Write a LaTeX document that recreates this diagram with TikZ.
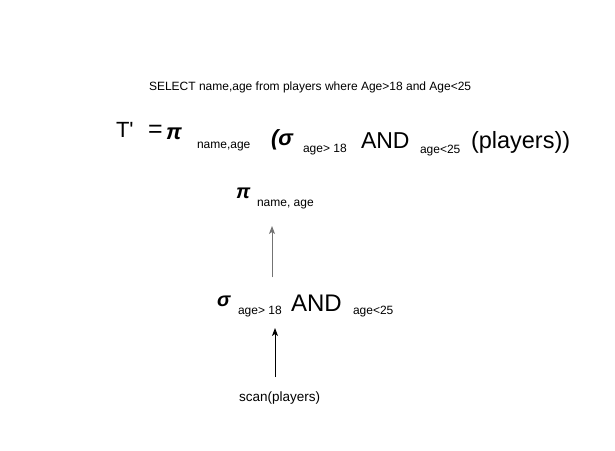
\documentclass[tikz,border=0pt]{standalone}
\usepackage{fontspec}
\setmainfont{Liberation Sans}
\usetikzlibrary{arrows.meta}
\begin{document}
\begin{tikzpicture}[x=1pt,y=-1pt,
  txt/.style={inner sep=0pt,outer sep=0pt,anchor=base west},
  sql/.style={txt,font=\fontsize{12}{14}\selectfont},
  big/.style={txt,font=\fontsize{22}{26}\selectfont},
  bigger/.style={txt,font=\fontsize{23.5}{27}\selectfont},
  subs/.style={txt,font=\fontsize{12}{14}\selectfont},
  greek/.style={txt,font=\fontsize{22}{26}\selectfont\bfseries\itshape},
  greeks/.style={txt,font=\fontsize{20}{24}\selectfont\bfseries\itshape},
  conn/.style={line width=0.9pt,-{Stealth[length=8pt,width=6pt,inset=2pt]}}]
\useasboundingbox (0,0) rectangle (615,450);
% SQL line
\node[sql] (sqlq) at (149,90) {SELECT name,age from players where Age>18 and Age<25};
% algebra expression
\node[big] (tp) at (116,137) {\addfontfeatures{Ligatures=TeXOff}T'};
\node[big,font=\fontsize{25}{28}\selectfont] (eq) at (148,137) {=};
\node[greek] (pi1) at (166,139) {π};
\node[subs] (pisub1) at (197,148) {name,age};
\node[greek] (sig1) at (271,145) {(σ};
\node[subs] (c1a) at (303,152) {age> 18};
\node[bigger,font=\fontsize{23}{27}\selectfont] (and1) at (361,148) {AND};
\node[subs] (c1b) at (420,153) {age<25};
\node[bigger] (pl1) at (471,148) {(players))};
% tree
\node[greeks] (pi2) at (236,198) {π};
\node[subs] (pisub2) at (257,206) {name, age};
\node[greeks] (sig2) at (217,306) {σ};
\node[subs] (c2a) at (238,314) {age> 18};
\node[bigger,font=\fontsize{24}{28}\selectfont] (and2) at (291,311) {AND};
\node[subs] (c2b) at (353,314) {age<25};
\node[txt,font=\fontsize{13.5}{16}\selectfont] (scan) at (239,401) {scan(players)};
\coordinate (a1s) at (272,277);
\coordinate (a1e) at (272,226);
\coordinate (a2s) at (275,377);
\coordinate (a2e) at (275,328);
\draw[conn,draw=black!55,fill=black] (a1s) -- (a1e);
\draw[conn] (a2s) -- (a2e);
\end{tikzpicture}
\end{document}
